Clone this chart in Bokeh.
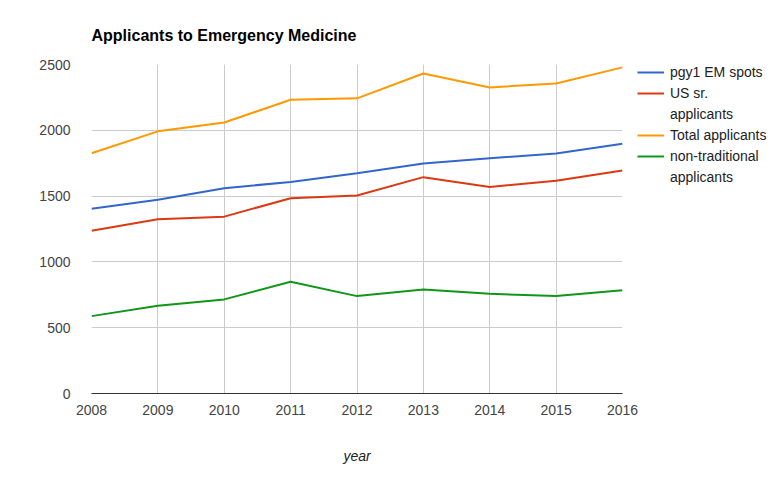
from bokeh.plotting import figure
from bokeh.models import Range1d, FixedTicker, Legend, LegendItem, Title
from bokeh.embed import file_html
from bokeh.resources import INLINE

years = [2008, 2009, 2010, 2011, 2012, 2013, 2014, 2015, 2016]
pgy1_em_spots = [1403, 1473, 1560, 1608, 1674, 1747, 1788, 1824, 1897]
us_sr_applicants = [1237, 1324, 1344, 1484, 1504, 1644, 1570, 1616, 1694]
total_applicants = [1826, 1992, 2059, 2232, 2243, 2432, 2326, 2356, 2478]
non_traditional = [588, 667, 715, 849, 740, 791, 758, 740, 784]
y_ticks = [0, 500, 1000, 1500, 2000, 2500]

series = [
    (["pgy1 EM spots"], pgy1_em_spots, "#3366cc"),
    (["US sr.", "applicants"], us_sr_applicants, "#dc3912"),
    (["Total applicants"], total_applicants, "#ff9900"),
    (["non-traditional", "applicants"], non_traditional, "#109618"),
]

FONT = "Liberation Sans"

p = figure(frame_width=531, frame_height=329, output_backend="svg",
           toolbar_location=None, x_range=Range1d(2008, 2016),
           y_range=Range1d(0, 2500))
p.min_border_left = 91
p.min_border_top = 64
p.min_border_right = 155
p.min_border_bottom = 85
p.outline_line_color = None

p.title = Title(text="Applicants to Emergency Medicine", text_font=FONT,
                text_font_size="16px", text_font_style="bold",
                text_color="#000000", align="left", standoff=41)

items = []
for labels, vals, color in series:
    r = p.line(years, vals, line_color=color, line_width=2)
    items.append(LegendItem(label=labels[0], renderers=[r]))
    for extra in labels[1:]:
        ghost = p.line(years[:1], vals[:1], line_alpha=0)
        items.append(LegendItem(label=extra, renderers=[ghost]))

legend = Legend(items=items, location=(15, 206), border_line_alpha=0,
                background_fill_alpha=0, label_text_font=FONT,
                label_text_font_size="14px", label_text_color="#222222",
                glyph_width=27, glyph_height=20, label_height=20,
                label_standoff=6, spacing=1, padding=0, margin=0)
p.add_layout(legend, "right")

p.xaxis.ticker = FixedTicker(ticks=years)
p.yaxis.ticker = FixedTicker(ticks=y_ticks)
for ax in (p.xaxis, p.yaxis):
    ax.major_tick_line_color = None
    ax.minor_tick_line_color = None
    ax.major_label_text_font = FONT
    ax.major_label_text_font_size = "14px"
    ax.major_label_text_color = "#444444"
p.yaxis.axis_line_color = None
p.yaxis.major_label_standoff = 15
p.xaxis.axis_line_color = "#333333"
p.xaxis.axis_line_width = 1
p.xaxis.major_label_standoff = 5
p.xaxis.axis_label = "year"
p.xaxis.axis_label_text_font = FONT
p.xaxis.axis_label_text_font_size = "14px"
p.xaxis.axis_label_text_font_style = "italic"
p.xaxis.axis_label_text_color = "#222222"
p.xaxis.axis_label_standoff = 30

p.xgrid.grid_line_color = "#cccccc"
p.ygrid.grid_line_color = "#cccccc"

open("out.html", "w").write(file_html(p, INLINE))
